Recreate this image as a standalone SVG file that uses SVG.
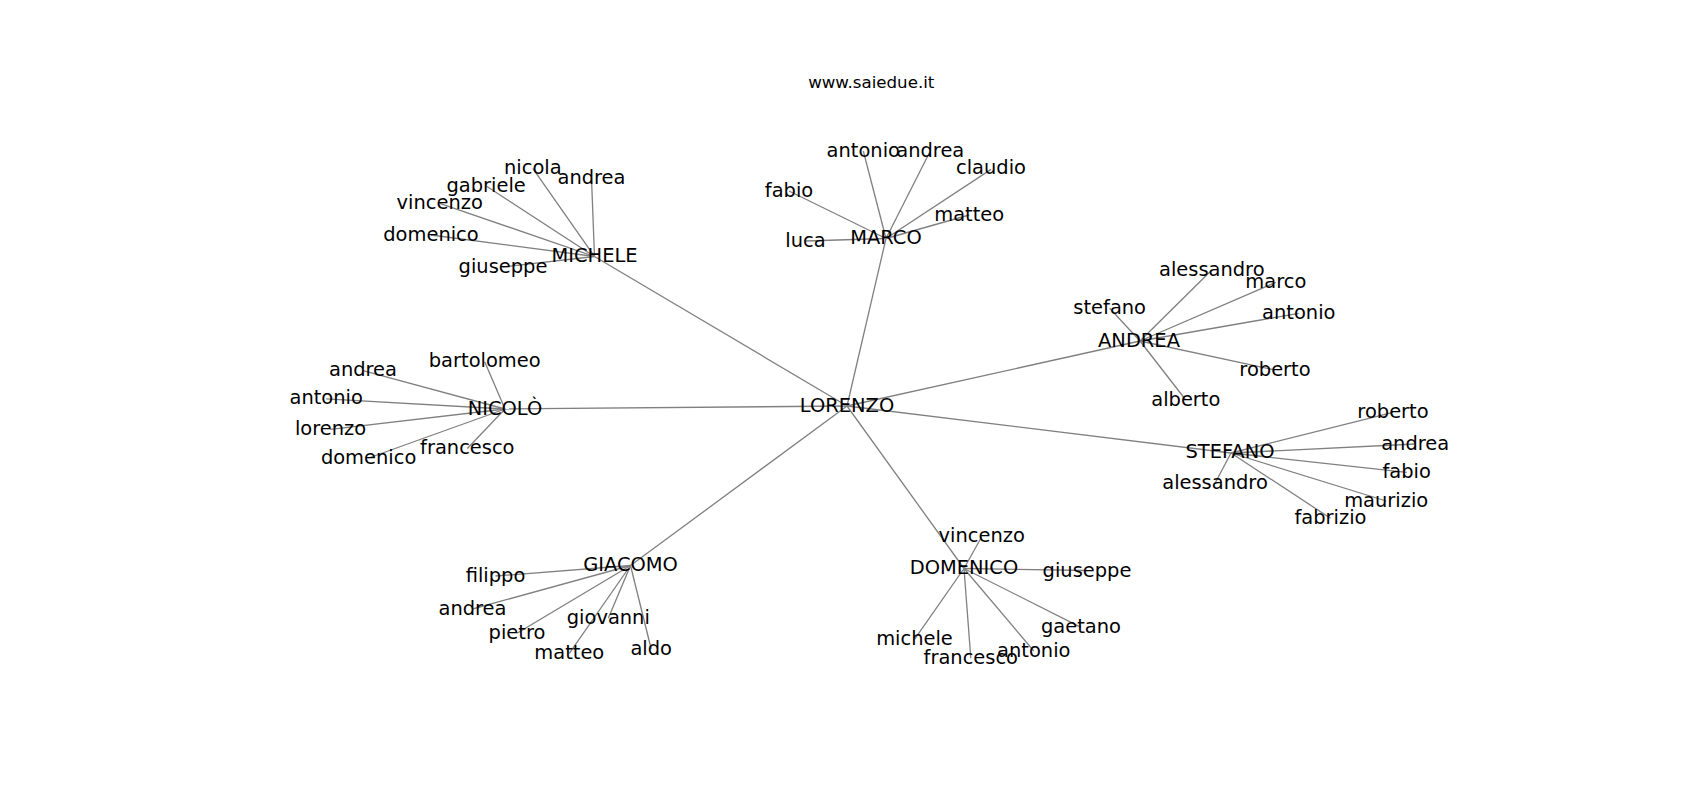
<svg xmlns="http://www.w3.org/2000/svg" width="1700" height="800" viewBox="0 0 1700 800">
<style>
.e{stroke:#808080;stroke-width:1.3;fill:none}
text{font-family:"DejaVu Sans","Liberation Sans",sans-serif;font-size:19.44px;fill:#000;text-anchor:middle}
.title{font-size:16.67px}
</style>
<rect width="1700" height="800" fill="#fff"/>
<text class="title" x="871.25" y="87.7">www.saiedue.it</text>
<g id="edges">
<line class="e" x1="847" y1="406" x2="594.5" y2="256.5"/>
<line class="e" x1="847" y1="406" x2="886" y2="238.5"/>
<line class="e" x1="847" y1="406" x2="1140" y2="341"/>
<line class="e" x1="847" y1="406" x2="1231" y2="453"/>
<line class="e" x1="847" y1="406" x2="505" y2="409"/>
<line class="e" x1="847" y1="406" x2="630.5" y2="565.5"/>
<line class="e" x1="847" y1="406" x2="964" y2="568.5"/>
<line class="e" x1="594.5" y1="256.5" x2="532.8" y2="168.3"/>
<line class="e" x1="594.5" y1="256.5" x2="591.5" y2="178.3"/>
<line class="e" x1="594.5" y1="256.5" x2="486.2" y2="186"/>
<line class="e" x1="594.5" y1="256.5" x2="439.7" y2="203.3"/>
<line class="e" x1="594.5" y1="256.5" x2="431" y2="235"/>
<line class="e" x1="594.5" y1="256.5" x2="503" y2="267"/>
<line class="e" x1="886" y1="238.5" x2="863.3" y2="151"/>
<line class="e" x1="886" y1="238.5" x2="930.3" y2="151"/>
<line class="e" x1="886" y1="238.5" x2="789" y2="191"/>
<line class="e" x1="886" y1="238.5" x2="805.5" y2="241"/>
<line class="e" x1="886" y1="238.5" x2="991" y2="169.4"/>
<line class="e" x1="886" y1="238.5" x2="969.2" y2="215"/>
<line class="e" x1="1140" y1="341" x2="1211.8" y2="270"/>
<line class="e" x1="1140" y1="341" x2="1109.7" y2="308.3"/>
<line class="e" x1="1140" y1="341" x2="1275.8" y2="282.3"/>
<line class="e" x1="1140" y1="341" x2="1298.8" y2="313.3"/>
<line class="e" x1="1140" y1="341" x2="1275" y2="370"/>
<line class="e" x1="1140" y1="341" x2="1185.8" y2="400"/>
<line class="e" x1="1231" y1="453" x2="1393" y2="412.3"/>
<line class="e" x1="1231" y1="453" x2="1415.2" y2="444"/>
<line class="e" x1="1231" y1="453" x2="1406.7" y2="472.3"/>
<line class="e" x1="1231" y1="453" x2="1386.2" y2="501"/>
<line class="e" x1="1231" y1="453" x2="1330.5" y2="518.3"/>
<line class="e" x1="1231" y1="453" x2="1215" y2="483.3"/>
<line class="e" x1="505" y1="409" x2="363" y2="370.7"/>
<line class="e" x1="505" y1="409" x2="326.2" y2="398.8"/>
<line class="e" x1="505" y1="409" x2="330.5" y2="429.3"/>
<line class="e" x1="505" y1="409" x2="484.7" y2="361.7"/>
<line class="e" x1="505" y1="409" x2="368.6" y2="458"/>
<line class="e" x1="505" y1="409" x2="467.3" y2="448.5"/>
<line class="e" x1="630.5" y1="565.5" x2="495.5" y2="576"/>
<line class="e" x1="630.5" y1="565.5" x2="472.5" y2="609"/>
<line class="e" x1="630.5" y1="565.5" x2="608.3" y2="618.3"/>
<line class="e" x1="630.5" y1="565.5" x2="517" y2="633.3"/>
<line class="e" x1="630.5" y1="565.5" x2="569.3" y2="653.3"/>
<line class="e" x1="630.5" y1="565.5" x2="651.2" y2="649"/>
<line class="e" x1="964" y1="568.5" x2="981.7" y2="536.7"/>
<line class="e" x1="964" y1="568.5" x2="1087" y2="570.5"/>
<line class="e" x1="964" y1="568.5" x2="914.5" y2="639.3"/>
<line class="e" x1="964" y1="568.5" x2="970.8" y2="658.3"/>
<line class="e" x1="964" y1="568.5" x2="1033.8" y2="651"/>
<line class="e" x1="964" y1="568.5" x2="1081" y2="627.3"/>
</g>
<g id="n_lorenzo"><text x="847" y="411.5">LORENZO</text></g>
<g id="n_michele"><text x="594.5" y="262">MICHELE</text></g>
<g id="n_michele_nicola"><text x="532.8" y="173.8">nicola</text></g>
<g id="n_michele_andrea"><text x="591.5" y="183.8">andrea</text></g>
<g id="n_michele_gabriele"><text x="486.2" y="191.5">gabriele</text></g>
<g id="n_michele_vincenzo"><text x="439.7" y="208.8">vincenzo</text></g>
<g id="n_michele_domenico"><text x="431" y="240.5">domenico</text></g>
<g id="n_michele_giuseppe"><text x="503" y="272.5">giuseppe</text></g>
<g id="n_marco"><text x="886" y="244">MARCO</text></g>
<g id="n_marco_antonio"><text x="863.3" y="156.5">antonio</text></g>
<g id="n_marco_andrea"><text x="930.3" y="156.5">andrea</text></g>
<g id="n_marco_fabio"><text x="789" y="196.5">fabio</text></g>
<g id="n_marco_luca"><text x="805.5" y="246.5">luca</text></g>
<g id="n_marco_claudio"><text x="991" y="174">claudio</text></g>
<g id="n_marco_matteo"><text x="969.2" y="220.5">matteo</text></g>
<g id="n_andrea"><text x="1139" y="347">ANDREA</text></g>
<g id="n_andrea_alessandro"><text x="1211.8" y="275.5">alessandro</text></g>
<g id="n_andrea_stefano"><text x="1109.7" y="313.8">stefano</text></g>
<g id="n_andrea_marco"><text x="1275.8" y="287.8">marco</text></g>
<g id="n_andrea_antonio"><text x="1298.8" y="318.8">antonio</text></g>
<g id="n_andrea_roberto"><text x="1275" y="375.5">roberto</text></g>
<g id="n_andrea_alberto"><text x="1185.8" y="405.5">alberto</text></g>
<g id="n_stefano"><text x="1230" y="457.5">STEFANO</text></g>
<g id="n_stefano_roberto"><text x="1393" y="417.8">roberto</text></g>
<g id="n_stefano_andrea"><text x="1415.2" y="449.5">andrea</text></g>
<g id="n_stefano_fabio"><text x="1406.7" y="477.8">fabio</text></g>
<g id="n_stefano_maurizio"><text x="1386.2" y="506.5">maurizio</text></g>
<g id="n_stefano_fabrizio"><text x="1330.5" y="523.8">fabrizio</text></g>
<g id="n_stefano_alessandro"><text x="1215" y="488.8">alessandro</text></g>
<g id="n_nicolo"><text x="505" y="414.5">NICOLÒ</text></g>
<g id="n_nicolo_andrea"><text x="363" y="376.2">andrea</text></g>
<g id="n_nicolo_antonio"><text x="326.2" y="404.3">antonio</text></g>
<g id="n_nicolo_lorenzo"><text x="330.5" y="434.8">lorenzo</text></g>
<g id="n_nicolo_bartolomeo"><text x="484.7" y="366.5">bartolomeo</text></g>
<g id="n_nicolo_domenico"><text x="368.6" y="463.5">domenico</text></g>
<g id="n_nicolo_francesco"><text x="467.3" y="453.5">francesco</text></g>
<g id="n_giacomo"><text x="630.5" y="570.5">GIACOMO</text></g>
<g id="n_giacomo_filippo"><text x="495.5" y="582">filippo</text></g>
<g id="n_giacomo_andrea"><text x="472.5" y="614.5">andrea</text></g>
<g id="n_giacomo_giovanni"><text x="608.3" y="623.8">giovanni</text></g>
<g id="n_giacomo_pietro"><text x="517" y="638.8">pietro</text></g>
<g id="n_giacomo_matteo"><text x="569.3" y="658.8">matteo</text></g>
<g id="n_giacomo_aldo"><text x="651.2" y="654.5">aldo</text></g>
<g id="n_domenico"><text x="964" y="574">DOMENICO</text></g>
<g id="n_domenico_vincenzo"><text x="981.7" y="542">vincenzo</text></g>
<g id="n_domenico_giuseppe"><text x="1087" y="577">giuseppe</text></g>
<g id="n_domenico_michele"><text x="914.5" y="644.8">michele</text></g>
<g id="n_domenico_francesco"><text x="970.8" y="663.8">francesco</text></g>
<g id="n_domenico_antonio"><text x="1033.8" y="656.5">antonio</text></g>
<g id="n_domenico_gaetano"><text x="1081" y="632.8">gaetano</text></g>
</svg>
